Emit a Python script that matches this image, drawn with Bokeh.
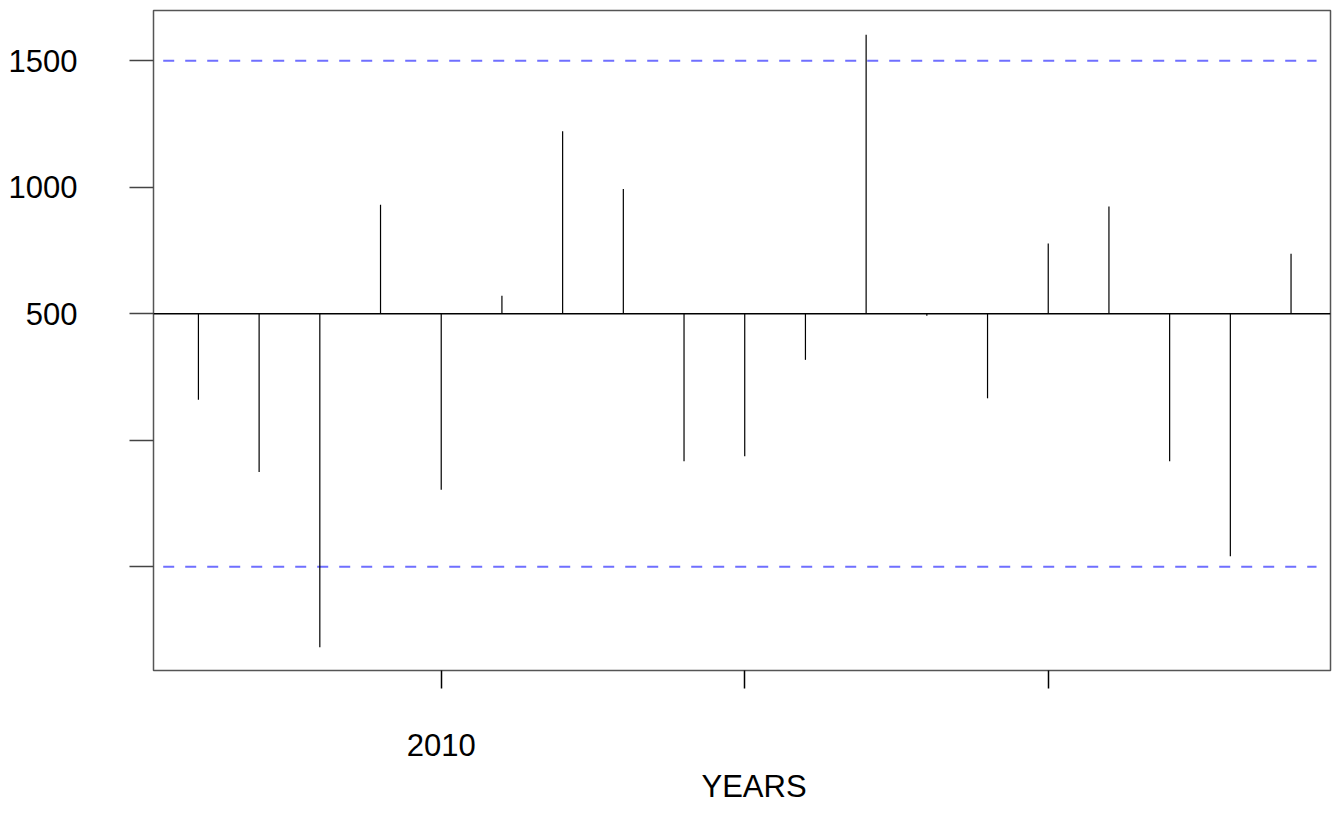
from bokeh.plotting import figure
from bokeh.models import FixedTicker, Span, Title
from bokeh.embed import file_html
from bokeh.resources import INLINE

# ---- data ----
years = [2006, 2007, 2008, 2009, 2010, 2011, 2012, 2013, 2014, 2015,
         2016, 2017, 2018, 2019, 2020, 2021, 2022, 2023, 2024]
values = [160, -125, -818, 931, -195, 571, 1222, 993, -83, -63,
          318, 1603, 492, 166, 778, 924, -83, -458, 737]
baseline = 500
upper_limit = 1500
lower_limit = -500
y_ticks = [-500, 0, 500, 1000, 1500]
y_tick_labels = ["", "", "500", "1000", "1500"]
x_ticks = [2010, 2015, 2020]
x_tick_labels = ["2010", "", ""]
x_label = "YEARS"

# x extent of the dashed limit lines
limit_x_start = 2005.42
limit_x_end = 2024.42

FONT = "Liberation Sans"
FS = "31px"

p = figure(width=1332, height=813, output_backend="svg", toolbar_location=None,
           x_range=(2005.26, 2024.65), y_range=(-910, 1699),
           min_border_left=153, min_border_right=2, min_border_top=10,
           min_border_bottom=143)
p.background_fill_color = "white"
p.border_fill_color = "white"
p.outline_line_color = "#555555"
p.outline_line_width = 1.5
p.xgrid.visible = False
p.ygrid.visible = False

# limit lines
for lim in (upper_limit, lower_limit):
    p.segment(x0=[limit_x_start], y0=[lim], x1=[limit_x_end], y1=[lim],
              line_color="#6f6fff", line_width=2, line_dash="11 11")

# baseline
p.add_layout(Span(location=baseline, dimension="width", line_color="black",
                  line_width=1.5))

# spikes
p.segment(x0=years, y0=[baseline] * len(years), x1=years, y1=values,
          line_color="black", line_width=1.2)

# y axis
ya = p.yaxis[0]
ya.ticker = FixedTicker(ticks=y_ticks)
ya.major_label_overrides = {t: l for t, l in zip(y_ticks, y_tick_labels)}
ya.axis_line_color = None
ya.major_tick_out = 24
ya.major_tick_in = 0
ya.minor_tick_line_color = None
ya.major_tick_line_color = "#444444"
ya.major_tick_line_width = 1.5
ya.major_label_standoff = 52
ya.major_label_text_font = FONT
ya.major_label_text_font_size = FS
ya.major_label_text_color = "black"

# x axis
xa = p.xaxis[0]
xa.ticker = FixedTicker(ticks=x_ticks)
xa.major_label_overrides = {t: l for t, l in zip(x_ticks, x_tick_labels)}
xa.axis_line_color = None
xa.major_tick_out = 18
xa.major_tick_in = 0
xa.minor_tick_line_color = None
xa.major_tick_line_color = "black"
xa.major_tick_line_width = 1.5
xa.major_label_standoff = 45
xa.major_label_text_font = FONT
xa.major_label_text_font_size = FS
xa.major_label_text_color = "black"

# axis title below the tick labels
p.add_layout(Title(text=x_label, align="left", offset=548, standoff=17,
                   text_font=FONT, text_font_size=FS, text_font_style="normal",
                   text_color="black"), "below")

open("out.html", "w").write(file_html(p, INLINE))
